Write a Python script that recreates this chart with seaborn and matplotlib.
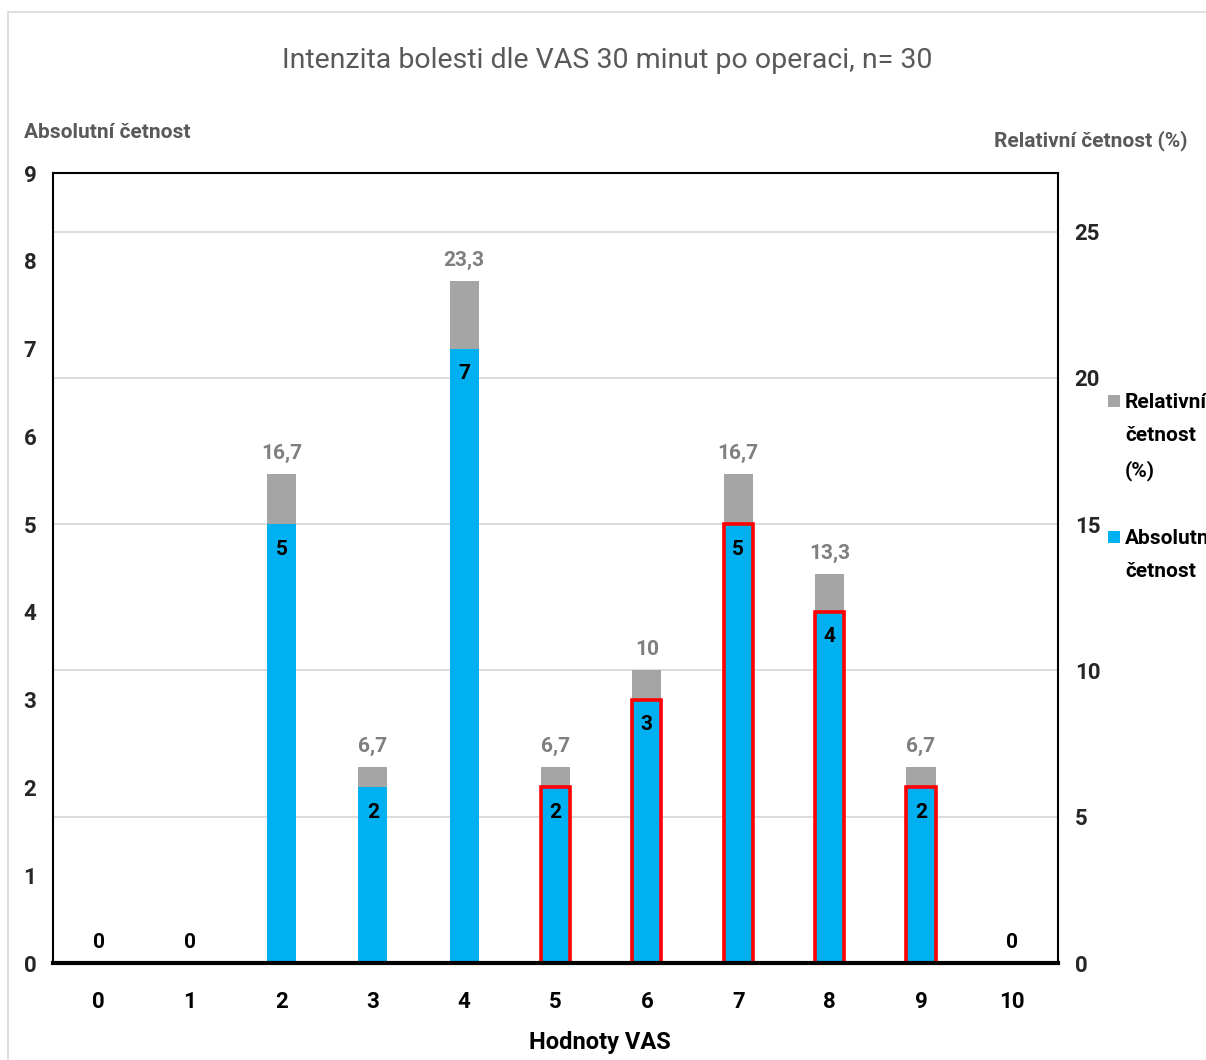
import matplotlib
matplotlib.use("Agg")
import matplotlib.pyplot as plt
from matplotlib.patches import Rectangle
import seaborn as sns
import pandas as pd

# Data
vas_values = ["0", "1", "2", "3", "4", "5", "6", "7", "8", "9", "10"]
absolute_counts = [0, 0, 5, 2, 7, 2, 3, 5, 4, 2, 0]
relative_pct = [0, 0, 16.7, 6.7, 23.3, 6.7, 10, 16.7, 13.3, 6.7, 0]
highlighted = ["5", "6", "7", "8", "9"]

title = "Intenzita bolesti dle VAS 30 minut po operaci, n= 30"
left_label = "Absolutní četnost"
right_label = "Relativní četnost (%)"
x_label = "Hodnoty VAS"
legend_labels = ["Relativní\nčetnost\n(%)", "Absolutní\nčetnost"]

BLUE = "#00B0F0"
GREY = "#A5A5A5"
RED = "#FF0000"
TEXT_GREY = "#595959"

sns.set_style("white")
plt.rcParams["font.family"] = ["Roboto", "DejaVu Sans"]

df = pd.DataFrame({"vas": vas_values, "abs": absolute_counts, "rel": relative_pct})

W, H = 1206, 1060
fig = plt.figure(figsize=(W / 100, H / 100), dpi=100)

# outer chart frame
fig.patches.append(Rectangle((8 / W, -0.01), 1.1, 1 - 12 / H + 0.01, transform=fig.transFigure,
                             fill=False, edgecolor="#D9D9D9", linewidth=1.2))

ax = fig.add_axes([53 / W, 1 - 963 / H, (1058 - 53) / W, (963 - 173) / H])
ax2 = ax.twinx()

# relative frequency (right scale), drawn behind
sns.barplot(data=df, x="vas", y="rel", ax=ax2, color=GREY, width=0.32,
            saturation=1, linewidth=0)
# absolute frequency (left scale), drawn in front
sns.barplot(data=df, x="vas", y="abs", ax=ax, color=BLUE, width=0.32,
            saturation=1, linewidth=0)

ax.set_zorder(ax2.get_zorder() + 1)
ax.patch.set_visible(False)

for patch, cat in zip(ax.patches, vas_values):
    if cat in highlighted:
        patch.set_edgecolor(RED)
        patch.set_linewidth(2.6)

ax.set_ylim(0, 9)
ax2.set_ylim(0, 27)
ax.set_xlim(-0.5, 10.5)

ax.set_yticks(range(0, 10))
ax2.set_yticks(range(0, 30, 5))
ax2.yaxis.grid(True, color="#D9D9D9", linewidth=1.3)
ax2.set_axisbelow(True)
ax.yaxis.grid(False)

for a in (ax, ax2):
    a.set_xlabel("")
    a.set_ylabel("")
    a.tick_params(length=0)
    for s in a.spines.values():
        s.set_visible(False)

for side in ("top", "left", "right"):
    ax.spines[side].set_visible(True)
    ax.spines[side].set_color("black")
    ax.spines[side].set_linewidth(1.5)
ax.spines["bottom"].set_visible(True)
ax.spines["bottom"].set_color("black")
ax.spines["bottom"].set_linewidth(3)

ax.set_xticks(range(len(vas_values)))
ax.set_xticklabels(vas_values, fontsize=16, fontweight="bold", color="black")
ax.tick_params(axis="x", pad=20)
ax.tick_params(axis="y", pad=12)
ax2.tick_params(axis="y", pad=12)
for lab in ax.get_yticklabels() + ax2.get_yticklabels():
    lab.set_fontsize(16)
    lab.set_fontweight("bold")

# value labels
def fmt(v):
    s = f"{v:.1f}".replace(".", ",")
    return s[:-2] if s.endswith(",0") else s

for i, v in enumerate(relative_pct):
    if v > 0:
        ax2.annotate(fmt(v), (i, v), xytext=(0, 15), textcoords="offset points",
                     ha="center", va="center", fontsize=15, fontweight="bold",
                     color="#7F7F7F")

for i, v in enumerate(absolute_counts):
    offset = -18 if v > 0 else 15
    ax.annotate(str(v), (i, v), xytext=(0, offset), textcoords="offset points",
                ha="center", va="center", fontsize=15, fontweight="bold",
                color="black", zorder=5)

fig.text(607 / W, 1 - 60 / H, title, ha="center", va="center", fontsize=20.5,
         color=TEXT_GREY)
fig.text(24 / W, 1 - 133 / H, left_label, ha="left", va="center", fontsize=15,
         fontweight="bold", color=TEXT_GREY)
fig.text(1188 / W, 1 - 141 / H, right_label, ha="right", va="center", fontsize=15,
         fontweight="bold", color=TEXT_GREY)
fig.text(600 / W, 1 - 1043 / H, x_label, ha="center", va="center", fontsize=17,
         fontweight="bold", color="black")

# legend on the right, square aligned with the first line of each entry
legend_entries = [(GREY, legend_labels[0], 401), (BLUE, legend_labels[1], 537)]
for color, text, yc in legend_entries:
    fig.patches.append(Rectangle((1108 / W, 1 - (yc + 6) / H), 12 / W, 12 / H,
                                 transform=fig.transFigure, facecolor=color,
                                 edgecolor="none"))
    fig.text(1125 / W, 1 - (yc - 8) / H, text, ha="left", va="top", fontsize=15,
             fontweight="bold", color="black", linespacing=1.95)

fig.savefig("out.png", dpi=100)
